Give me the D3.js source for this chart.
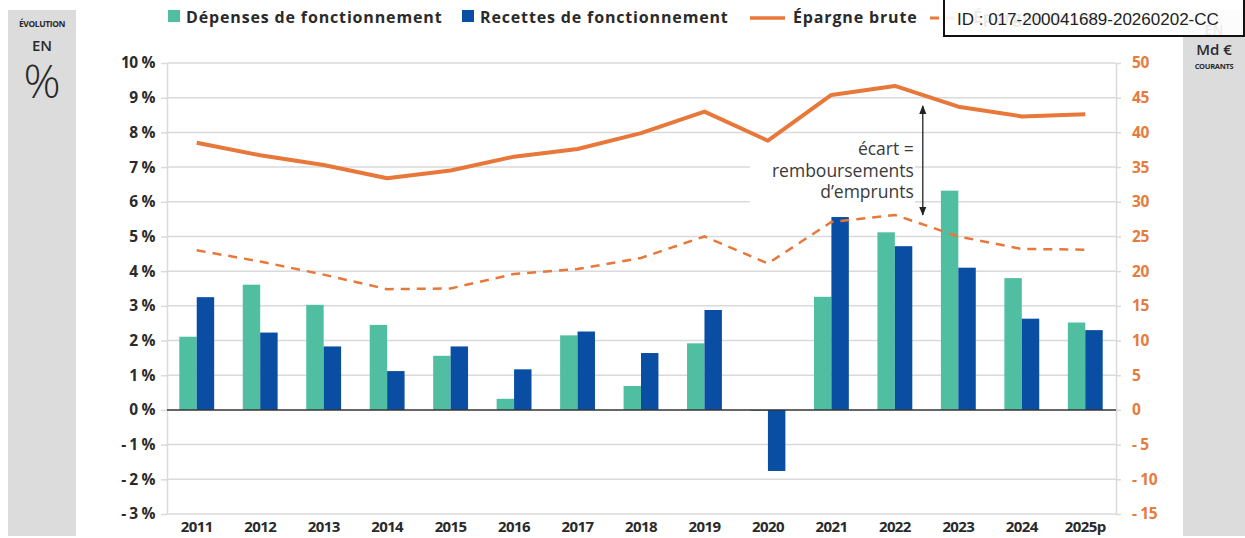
<!DOCTYPE html>
<html>
<head>
<meta charset="utf-8">
<script src="https://cdn.jsdelivr.net/npm/d3@7"></script>
<style>
  html, body { margin: 0; padding: 0; background: #ffffff; }
  svg { display: block; }
</style>
</head>
<body>
<svg id="chart" width="1245" height="538"></svg>
<script>
// ---- data ----
const years = ['2011','2012','2013','2014','2015','2016','2017','2018','2019','2020','2021','2022','2023','2024','2025p'];
const depenses = [2.11, 3.61, 3.03, 2.45, 1.56, 0.32, 2.15, 0.69, 1.92, -0.03, 3.26, 5.12, 6.32, 3.80, 2.52];
const recettes = [3.25, 2.23, 1.83, 1.12, 1.83, 1.17, 2.26, 1.64, 2.88, -1.76, 5.56, 4.72, 4.10, 2.63, 2.30];
const epargneBrute = [38.5, 36.7, 35.3, 33.4, 34.5, 36.5, 37.6, 39.9, 43.0, 38.8, 45.4, 46.7, 43.7, 42.3, 42.6];
const epargneNette = [23.0, 21.4, 19.5, 17.4, 17.5, 19.6, 20.3, 21.9, 25.0, 21.1, 27.1, 28.1, 25.0, 23.2, 23.1];
const leftTicks = [10, 9, 8, 7, 6, 5, 4, 3, 2, 1, 0, -1, -2, -3];
const rightTicks = [50, 45, 40, 35, 30, 25, 20, 15, 10, 5, 0, -5, -10, -15];
const seriesNames = ['Dépenses de fonctionnement', 'Recettes de fonctionnement', 'Épargne brute', 'Épargne nette'];
const annotationLines = ['écart =', 'remboursements', 'd\u2019emprunts'];
const annotationRange = [43.8, 28.1]; // Md € span of the arrow, between 2022 and 2023
const idText = 'ID : 017-200041689-20260202-CC';

// ---- styles ----
const C_GREEN = '#50bfa1';
const C_BLUE = '#0a4ea3';
const C_ORANGE = '#e8773a';
const C_ORANGE_TXT = '#e57b3c';
const C_TEXT = '#2a2a2a';
const C_GRID = '#dadada';
const FONT = '"Open Sans", "Noto Sans", sans-serif';

const svg = d3.select('#chart');
const plotL = 167, plotR = 1116, plotT = 63, plotB = 514;

const x0 = d3.scaleBand().domain(years).range([165, 1117]).padding(0);
const x1 = d3.scaleBand().domain(['dep', 'rec']).range([0, x0.bandwidth()]).paddingInner(0).paddingOuter(0.82);
const yL = d3.scaleLinear().domain([-3, 10]).range([plotB, plotT]);
const yR = d3.scaleLinear().domain([-15, 50]).range([plotB, plotT]);
const cx = d => x0(d) + x0.bandwidth() / 2;

// ---- side panels ----
svg.append('rect').attr('x', 8).attr('y', 10).attr('width', 68).attr('height', 526).attr('fill', '#dcdcdc');
svg.append('rect').attr('x', 1183).attr('y', 10).attr('width', 62).attr('height', 526).attr('fill', '#dcdcdc');

const lp = svg.append('g').attr('font-family', FONT).attr('fill', C_TEXT).attr('text-anchor', 'middle');
lp.append('text').attr('x', 42).attr('y', 27).attr('font-size', 8.5).attr('font-weight', 700).attr('letter-spacing', -0.4).text('ÉVOLUTION');
lp.append('text').attr('x', 42).attr('y', 51).attr('font-size', 15).attr('font-weight', 600).text('EN');
lp.append('text').attr('x', 42).attr('y', 98).attr('font-size', 46).attr('font-weight', 300).text('%');

const rp = svg.append('g').attr('font-family', FONT).attr('fill', C_TEXT).attr('text-anchor', 'middle');
rp.append('text').attr('x', 1214).attr('y', 35).attr('font-size', 14).attr('font-weight', 600).text('EN');
rp.append('text').attr('x', 1214).attr('y', 55).attr('font-size', 15).attr('font-weight', 600).text('Md €');
rp.append('text').attr('x', 1214).attr('y', 69).attr('font-size', 7.5).attr('font-weight', 700).attr('letter-spacing', -0.3).text('COURANTS');

// ---- gridlines ----
svg.append('g').selectAll('line').data(leftTicks.filter(v => v !== 0)).join('line')
  .attr('x1', plotL).attr('x2', plotR)
  .attr('y1', d => yL(d)).attr('y2', d => yL(d))
  .attr('stroke', C_GRID).attr('stroke-width', 1.5);

// ---- axes ----
const fmtL = v => (v < 0 ? '- ' + Math.abs(v) : String(v)) + ' %';
const fmtR = v => (v < 0 ? '- ' + Math.abs(v) : String(v));

const axL = svg.append('g').attr('transform', `translate(${plotL},0)`)
  .call(d3.axisLeft(yL).tickValues(leftTicks).tickFormat(fmtL).tickSize(6).tickSizeOuter(0).tickPadding(6));
const axR = svg.append('g').attr('transform', `translate(${plotR},0)`)
  .call(d3.axisRight(yR).tickValues(rightTicks).tickFormat(fmtR).tickSize(5).tickSizeOuter(0).tickPadding(11));
[axL, axR].forEach(a => {
  a.select('.domain').attr('stroke', C_GRID).attr('stroke-width', 1.5);
  a.selectAll('.tick line').attr('stroke', C_GRID).attr('stroke-width', 1.5);
  a.selectAll('text').attr('font-family', FONT).attr('font-weight', 700).attr('font-size', 15.5).attr('letter-spacing', -0.4);
});
axL.selectAll('text').attr('fill', C_TEXT);
axR.selectAll('text').attr('fill', C_ORANGE_TXT);

const axB = svg.append('g').attr('transform', `translate(0,${plotB})`)
  .call(d3.axisBottom(x0).tickSize(0).tickPadding(7));
axB.select('.domain').remove();
axB.selectAll('text').attr('font-family', FONT).attr('font-weight', 700).attr('font-size', 15).attr('fill', C_TEXT).attr('letter-spacing', -0.6);

// ---- annotation background ----
const arrowX = cx('2022') + x0.step() * 0.44;
svg.append('rect').attr('x', arrowX - 173).attr('y', yL(7.7)).attr('width', 165).attr('height', yL(5.85) - yL(7.7)).attr('fill', '#fff');

// ---- bars ----
const rows = years.map((y, i) => ({ year: y, dep: depenses[i], rec: recettes[i] }));
const bars = svg.append('g');
bars.selectAll('g').data(rows).join('g')
  .attr('transform', d => `translate(${x0(d.year)},0)`)
  .selectAll('rect')
  .data(d => [{ k: 'dep', v: d.dep }, { k: 'rec', v: d.rec }])
  .join('rect')
  .attr('x', d => x1(d.k))
  .attr('width', x1.bandwidth())
  .attr('y', d => yL(Math.max(0, d.v)))
  .attr('height', d => Math.abs(yL(d.v) - yL(0)))
  .attr('fill', d => d.k === 'dep' ? C_GREEN : C_BLUE);

// zero line
svg.append('line').attr('x1', plotL).attr('x2', plotR).attr('y1', yL(0)).attr('y2', yL(0))
  .attr('stroke', '#333').attr('stroke-width', 1.5);

// ---- lines ----
const line = d3.line().x((d, i) => cx(years[i])).y(d => yR(d));
svg.append('path').datum(epargneNette).attr('d', line).attr('fill', 'none')
  .attr('stroke', C_ORANGE).attr('stroke-width', 2.5).attr('stroke-dasharray', '9,7');
svg.append('path').datum(epargneBrute).attr('d', line).attr('fill', 'none')
  .attr('stroke', C_ORANGE).attr('stroke-width', 4).attr('stroke-linejoin', 'round');

// ---- annotation ----
svg.append('defs').append('marker').attr('id', 'ah').attr('viewBox', '0 0 10 10')
  .attr('refX', 9).attr('refY', 5).attr('markerWidth', 7).attr('markerHeight', 7)
  .attr('orient', 'auto-start-reverse')
  .append('path').attr('d', 'M0,1 L10,5 L0,9 Z').attr('fill', '#222');
svg.append('line').attr('x1', arrowX).attr('x2', arrowX)
  .attr('y1', yR(annotationRange[0])).attr('y2', yR(annotationRange[1]))
  .attr('stroke', '#222').attr('stroke-width', 1.3)
  .attr('marker-start', 'url(#ah)').attr('marker-end', 'url(#ah)');
svg.append('g').attr('font-family', FONT).attr('font-size', 17.5).attr('fill', '#3a3a3a').attr('text-anchor', 'end')
  .selectAll('text').data(annotationLines).join('text')
  .attr('x', arrowX - 9).attr('y', (d, i) => 155 + i * 21.5).text(d => d);

// ---- legend ----
const lg = svg.append('g').attr('font-family', FONT).attr('font-size', 16).attr('font-weight', 700).attr('fill', C_TEXT).attr('letter-spacing', 0.85);
const legendX = [168, 462, 750, 930];
lg.append('rect').attr('x', legendX[0]).attr('y', 10).attr('width', 12).attr('height', 12).attr('fill', C_GREEN);
lg.append('text').attr('x', legendX[0] + 18).attr('y', 23).text(seriesNames[0]);
lg.append('rect').attr('x', legendX[1]).attr('y', 10).attr('width', 12).attr('height', 12).attr('fill', C_BLUE);
lg.append('text').attr('x', legendX[1] + 18).attr('y', 23).text(seriesNames[1]);
lg.append('line').attr('x1', legendX[2]).attr('x2', legendX[2] + 35).attr('y1', 18).attr('y2', 18).attr('stroke', C_ORANGE).attr('stroke-width', 3.5);
lg.append('text').attr('x', legendX[2] + 43).attr('y', 23).text(seriesNames[2]);
lg.append('line').attr('x1', legendX[3]).attr('x2', legendX[3] + 35).attr('y1', 18).attr('y2', 18).attr('stroke', C_ORANGE).attr('stroke-width', 3).attr('stroke-dasharray', '9,7');
lg.append('text').attr('x', legendX[3] + 43).attr('y', 23).text(seriesNames[3]);

// ---- ID stamp ----
svg.append('rect').attr('x', 944).attr('y', -2).attr('width', 300).attr('height', 38)
  .attr('fill', '#fff').attr('fill-opacity', 0.9).attr('stroke', '#111').attr('stroke-width', 2);
svg.append('text').attr('x', 957).attr('y', 25).attr('font-family', '"Liberation Sans", Arial, sans-serif')
  .attr('font-size', 17).attr('fill', '#222').text(idText);
</script>
</body>
</html>
